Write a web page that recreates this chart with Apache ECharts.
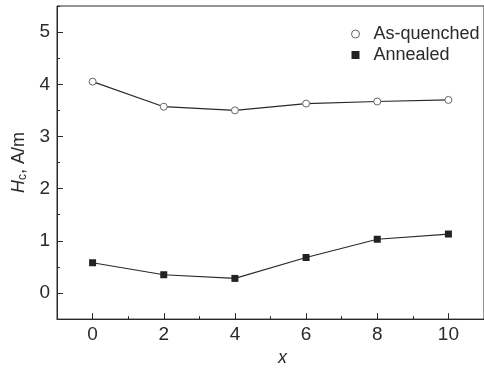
<!DOCTYPE html>
<html><head><meta charset="utf-8">
<script src="https://cdn.jsdelivr.net/npm/echarts@6/dist/echarts.min.js"></script>
<style>html,body{margin:0;padding:0;background:#fff}#c{width:484px;height:372px}</style>
</head><body><div id="c"></div>
<script>
const xValues = [0, 2, 4, 6, 8, 10];
const asQuenched = [4.05, 3.57, 3.5, 3.63, 3.67, 3.7];
const annealed = [0.58, 0.35, 0.28, 0.68, 1.03, 1.13];
const seriesNames = ['As-quenched', 'Annealed'];
const xTickLabels = [0, 2, 4, 6, 8, 10];
const yTickLabels = [0, 1, 2, 3, 4, 5];

const chart = echarts.init(document.getElementById('c'), null, {renderer: 'canvas'});
const font = 'Liberation Sans, Arial, sans-serif';
const lineCol = '#2a2a2a';
const txt = '#2a2a2a';
chart.setOption({
  animation: false,
  backgroundColor: '#fff',
  grid: {left: 57, top: 6, width: 429, height: 318, show: true, borderColor: lineCol, borderWidth: 1, containLabel: false},
  legend: {
    left: 346, top: 20, orient: 'vertical', itemGap: 3, itemWidth: 8, itemHeight: 8,
    textStyle: {fontFamily: font, fontSize: 18, color: txt, padding: [0, 0, 0, 9]},
    data: [
      {name: seriesNames[0], icon: 'circle', itemStyle: {color: '#fff', borderColor: '#666', borderWidth: 1}},
      {name: seriesNames[1], icon: 'rect', itemStyle: {color: '#222', borderWidth: 0}}
    ]
  },
  xAxis: [{
    type: 'value', min: -1, max: 11, interval: 1,
    name: 'x', nameLocation: 'middle', nameGap: 27,
    nameTextStyle: {fontFamily: font, fontSize: 18, fontStyle: 'italic', color: txt, padding: [0, 0, 0, 24]},
    axisLine: {show: true, onZero: false, lineStyle: {color: lineCol}},
    axisTick: {show: true, inside: true, length: 6, lineStyle: {color: lineCol}, customValues: xTickLabels},
    axisLabel: {fontFamily: font, fontSize: 19, color: txt, margin: 6, customValues: xTickLabels},
    splitLine: {show: false}
  }, {
    type: 'value', min: -1, max: 11, interval: 1, position: 'bottom',
    axisLine: {show: false, onZero: false},
    axisTick: {show: true, inside: true, length: 3, lineStyle: {color: lineCol}},
    axisLabel: {show: false},
    splitLine: {show: false}
  }],
  yAxis: [{
    type: 'value', min: -0.5, max: 5.5, interval: 0.5,
    name: '{i|H}{s|c}{n|, A/m}', nameLocation: 'middle', nameGap: 28, nameRotate: 90,
    nameTextStyle: {fontFamily: font, fontSize: 18, color: txt,
      rich: {
        i: {fontFamily: font, fontSize: 18, fontStyle: 'italic', color: txt},
        s: {fontFamily: font, fontSize: 12, color: txt, verticalAlign: 'bottom', padding: [7, 0, 0, 0]},
        n: {fontFamily: font, fontSize: 18, color: txt}
      }},
    axisLine: {show: true, onZero: false, lineStyle: {color: lineCol}},
    axisTick: {show: true, inside: true, length: 6, lineStyle: {color: lineCol}, customValues: yTickLabels},
    axisLabel: {fontFamily: font, fontSize: 19, color: txt, margin: 7, customValues: yTickLabels},
    splitLine: {show: false}
  }, {
    type: 'value', min: -0.5, max: 5.5, interval: 0.5, position: 'left',
    axisLine: {show: false, onZero: false},
    axisTick: {show: true, inside: true, length: 3, lineStyle: {color: lineCol}},
    axisLabel: {show: false},
    splitLine: {show: false}
  }],
  series: [
    {
      name: seriesNames[0], type: 'line',
      data: xValues.map((x, i) => [x, asQuenched[i]]),
      symbol: 'circle', symbolSize: 7,
      itemStyle: {color: '#fff', borderColor: '#666', borderWidth: 1},
      lineStyle: {color: lineCol, width: 1.2}
    },
    {
      name: seriesNames[1], type: 'line',
      data: xValues.map((x, i) => [x, annealed[i]]),
      symbol: 'rect', symbolSize: 7,
      itemStyle: {color: '#222', borderColor: '#222', borderWidth: 0},
      lineStyle: {color: lineCol, width: 1.2}
    }
  ]
});
</script></body></html>
